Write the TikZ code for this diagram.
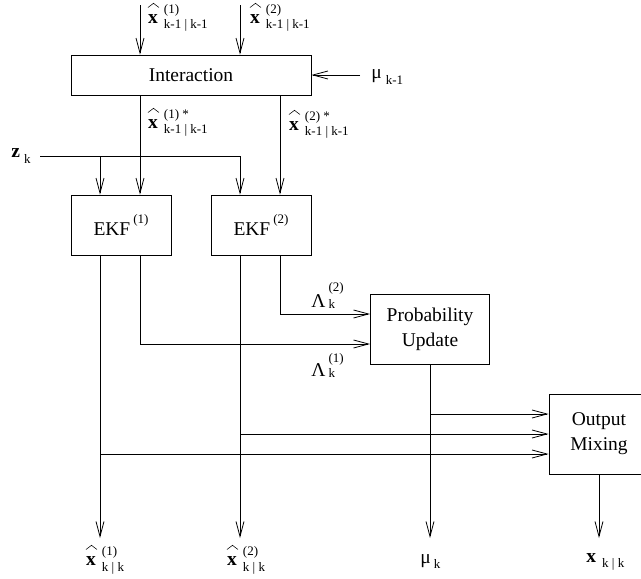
\documentclass[tikz,border=0pt]{standalone}
\usepackage{fontspec}
\setmainfont{Liberation Serif}
\usetikzlibrary{arrows.meta,calc}

% script-size text for super/subscripts
\newcommand{\scr}{\fontsize{13}{13}\selectfont}
% bold x with a wide hat drawn above it
\newcommand{\hx}{\makebox[0pt][l]{\hspace{-0.5pt}\raisebox{15.5pt}{\tikz[x=1pt,y=1pt,line width=0.55pt,baseline=0pt]\draw (0,0) -- (5.5,4.2) -- (11,0);}}\textbf{x}}
% superscript and subscript stacked after a base: raise, lower, sup, sub
\newcommand{\supsub}[4]{\makebox[0pt][l]{\raisebox{#1}{\scr #3}}\raisebox{#2}{\scr #4}}

\begin{document}
\begin{tikzpicture}[x=1pt,y=-1pt,
  line width=0.8pt,
  block/.style={draw, rectangle, inner sep=0pt, align=center,
    font=\fontsize{19.5}{25}\selectfont},
  lab/.style={inner sep=0pt, anchor=base west,
    font=\fontsize{19.5}{24}\selectfont},
  arr/.style={-{Straight Barb[length=15pt,width=8pt]}}]

\useasboundingbox (0,0) rectangle (641,579);

% blocks
\node[block, minimum width=240pt, minimum height=40pt] (inter) at (191,75) {Interaction};
\node[block, minimum width=100pt, minimum height=60pt] (ekf1) at (121,225)
  {EKF\hspace{3pt}\raisebox{12pt}{\scr (1)}};
\node[block, minimum width=100pt, minimum height=60pt] (ekf2) at (261,225)
  {EKF\hspace{3pt}\raisebox{12pt}{\scr (2)}};
\node[block, minimum width=119pt, minimum height=70pt] (prob) at (430,329)
  {Probability\\Update};
\node[block, minimum width=100pt, minimum height=80pt] (omix) at (599,434)
  {Output\\Mixing};

% column and row guides
\coordinate (c1) at (100,0);
\coordinate (c2) at (140,0);
\coordinate (c3) at (240,0);
\coordinate (c4) at (280,0);
\coordinate (l2) at (0,314);
\coordinate (l1) at (0,344);
\coordinate (r1) at (0,414);
\coordinate (r2) at (0,434);
\coordinate (r3) at (0,454);

% free ends
\coordinate (in1) at (140,5);
\coordinate (in2) at (240,5);
\coordinate (muin) at (360,75);
\coordinate (zin) at (40,156);
\coordinate (o1) at (100,538);
\coordinate (o2) at (240,538);
\coordinate (o3) at (430,538);
\coordinate (o4) at (599,538);

% inputs to the interaction block
\draw[arr] (in1) -- (in1 |- inter.north);
\draw[arr] (in2) -- (in2 |- inter.north);
\draw[arr] (muin) -- (inter.east);

% interaction to filters
\draw[arr] (inter.south -| c2) -- (ekf1.north -| c2);
\draw[arr] (inter.south -| c4) -- (ekf2.north -| c4);

% measurement
\draw[arr] (zin) -| (ekf2.north -| c3);
\draw[arr] (zin -| c1) -- (ekf1.north -| c1);

% filter outputs
\draw[arr] (ekf1.south -| c1) -- (o1);
\draw[arr] (ekf2.south -| c3) -- (o2);
\draw[arr] (ekf1.south -| c2) |- (prob.west |- l1);
\draw[arr] (ekf2.south -| c4) |- (prob.west |- l2);

% probability update output
\draw[arr] (prob.south) -- (o3);

% inputs to output mixing
\draw[arr] (prob.south |- r1) -- (omix.west |- r1);
\draw[arr] (c3 |- r2) -- (omix.west |- r2);
\draw[arr] (c1 |- r3) -- (omix.west |- r3);
\draw[arr] (omix.south) -- (o4);

% labels
\node[lab] (lx1) at (148,23) {\hx\hspace{6pt}\supsub{10pt}{-5pt}{(1)}{k-1 | k-1}};
\node[lab] (lx2) at (250,23) {\hx\hspace{6pt}\supsub{10pt}{-5pt}{(2)}{k-1 | k-1}};
\node[lab] (lmu1) at (371,78) {μ\hspace{4pt}\supsub{0pt}{-6pt}{}{k-1}};
\node[lab] (lxs1) at (148,128) {\hx\hspace{6pt}\supsub{10pt}{-5pt}{(1) *}{k-1 | k-1}};
\node[lab] (lxs2) at (289,130) {\hx\hspace{6pt}\supsub{10pt}{-5pt}{(2) *}{k-1 | k-1}};
\node[lab] (lz) at (11,157) {\textbf{z}\hspace{4pt}\supsub{0pt}{-6pt}{}{k}};
\node[lab] (lL2) at (311,307) {Λ\hspace{3pt}\supsub{16pt}{-1pt}{(2)}{k}};
\node[lab] (lL1) at (311,376) {Λ\hspace{3pt}\supsub{14pt}{-1pt}{(1)}{k}};
\node[lab] (lo1) at (86,565) {\hx\hspace{6pt}\supsub{10pt}{-6pt}{(1)}{k | k}};
\node[lab] (lo2) at (227,565) {\hx\hspace{6pt}\supsub{10pt}{-6pt}{(2)}{k | k}};
\node[lab] (lo3) at (420,563) {μ\hspace{3pt}\supsub{0pt}{-5pt}{}{k}};
\node[lab] (lo4) at (586,562) {\textbf{x}\hspace{6pt}\supsub{0pt}{-5pt}{}{k | k}};

\end{tikzpicture}
\end{document}
